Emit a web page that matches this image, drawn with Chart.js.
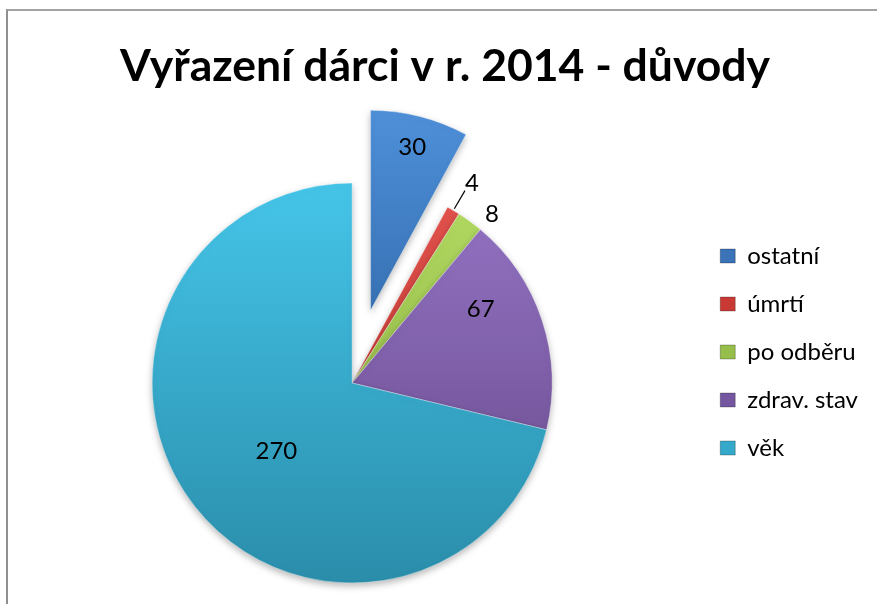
<!DOCTYPE html>
<html><head><meta charset="utf-8">
<script src="https://cdn.jsdelivr.net/npm/chart.js@4.4.1/dist/chart.umd.min.js"></script>
<style>
html,body{margin:0;padding:0;background:#fff;}
#wrap{position:relative;width:877px;height:604px;overflow:hidden;background:#fff;}
#frame{position:absolute;left:6px;top:9px;width:900px;height:700px;border-left:2px solid #8f8f8f;border-top:2px solid #a3a3a3;}
canvas{position:absolute;left:0;top:0;}
</style></head><body>
<div id="wrap"><div id="frame"></div><canvas id="c" width="877" height="604"></canvas></div>
<script>
// ---- data ----
const titleText = 'Vyřazení dárci v r. 2014 - důvody';
const categories = ['ostatní', 'úmrtí', 'po odběru', 'zdrav. stav', 'věk'];
const values = [30, 4, 8, 67, 270];

// ---- styles ----
const colorsTop    = ['#4E90D9', '#E5544E', '#B4DD64', '#9675C6', '#45C5E9'];
const colorsBottom = ['#21528F', '#AE2A26', '#7E9F34', '#634686', '#2A8DAA'];
const colorsLegend = ['#3A73B8', '#C93A35', '#95BE4A', '#7457A0', '#35A9CB'];
const explodeOffsets = [75, 0, 0, 0, 0];
const labelPlacement = [
  {r: 0.845, da: 0},
  {r: 1.17, da: 0.4, line: [1.01, 1.115]},
  {r: 1.10, da: 3.4},
  {r: 0.745, da: -12},
  {r: 0.505, da: -3.2}
];
const PIE_R = 200;
const TITLE_SHIFT_X = 7;

function sliceGradient(context) {
  const chart = context.chart;
  const i = context.dataIndex;
  const a = chart.chartArea;
  if (!a) return colorsLegend[i];
  const cy = (a.top + a.bottom) / 2;
  const g = chart.ctx.createLinearGradient(0, cy - PIE_R, 0, cy + PIE_R);
  g.addColorStop(0, colorsTop[i]);
  g.addColorStop(1, colorsBottom[i]);
  return g;
}

const titleShiftPlugin = {
  id: 'titleShift',
  afterLayout(chart) {
    const t = chart.titleBlock;
    if (t) { t.left += TITLE_SHIFT_X; t.right += TITLE_SHIFT_X; }
  }
};

const explodePlugin = {
  id: 'explodeSlices',
  beforeDatasetsDraw(chart) {
    const ctx = chart.ctx;
    const meta = chart.getDatasetMeta(0);
    meta.data.forEach((arc, i) => {
      const d = explodeOffsets[i] || 0;
      const mid = (arc.startAngle + arc.endAngle) / 2;
      ctx.save();
      ctx.translate(Math.cos(mid) * d, Math.sin(mid) * d);
      ctx.shadowColor = 'rgba(0,0,0,0.28)';
      ctx.shadowBlur = 7;
      ctx.shadowOffsetY = 3;
      arc.draw(ctx, chart.chartArea);
      ctx.restore();
    });
    return false;
  }
};

const labelPlugin = {
  id: 'sliceLabels',
  afterDraw(chart) {
    const ctx = chart.ctx;
    const meta = chart.getDatasetMeta(0);
    ctx.save();
    ctx.font = '24px Lato';
    ctx.fillStyle = '#000';
    ctx.textAlign = 'center';
    ctx.textBaseline = 'middle';
    meta.data.forEach((arc, i) => {
      const p = arc.getProps(['x', 'y', 'startAngle', 'endAngle', 'outerRadius'], true);
      const place = labelPlacement[i];
      const midRaw = (p.startAngle + p.endAngle) / 2;
      const off = explodeOffsets[i] || 0;
      const ox = p.x + Math.cos(midRaw) * off;
      const oy = p.y + Math.sin(midRaw) * off;
      const mid = midRaw + place.da * Math.PI / 180;
      const d = p.outerRadius * place.r;
      if (place.line) {
        ctx.beginPath();
        ctx.strokeStyle = '#000';
        ctx.lineWidth = 1.2;
        ctx.moveTo(ox + Math.cos(midRaw) * p.outerRadius * place.line[0], oy + Math.sin(midRaw) * p.outerRadius * place.line[0]);
        ctx.lineTo(ox + Math.cos(midRaw) * p.outerRadius * place.line[1], oy + Math.sin(midRaw) * p.outerRadius * place.line[1]);
        ctx.stroke();
      }
      ctx.fillText(String(values[i]), ox + Math.cos(mid) * d, oy + Math.sin(mid) * d + 1);
    });
    ctx.restore();
  }
};

new Chart(document.getElementById('c'), {
  type: 'pie',
  data: {
    labels: categories,
    datasets: [{
      data: values,
      backgroundColor: sliceGradient,
      borderColor: 'rgba(255,255,255,0.35)',
      borderWidth: 1,
      hoverOffset: 0
    }]
  },
  options: {
    responsive: false,
    devicePixelRatio: 1,
    animation: false,
    radius: PIE_R,
    layout: {padding: {left: 8, right: 9, top: 0, bottom: 58}},
    plugins: {
      tooltip: {enabled: false},
      title: {
        display: true,
        text: titleText,
        color: '#000',
        font: {family: 'Lato', size: 44.5, weight: 'bold'},
        padding: {top: 40.3, bottom: 126.3}
      },
      legend: {
        display: true,
        position: 'right',
        align: 'start',
        fullSize: false,
        labels: {
          color: '#000',
          font: {family: 'Lato', size: 24},
          boxWidth: 15,
          boxHeight: 14,
          padding: 24,
          generateLabels(chart) {
            return categories.map((c, i) => ({
              text: c,
              fillStyle: colorsLegend[i],
              strokeStyle: 'rgba(0,0,0,0.25)',
              lineWidth: 1,
              hidden: false,
              index: i
            }));
          }
        }
      }
    }
  },
  plugins: [titleShiftPlugin, explodePlugin, labelPlugin]
});
</script>
</body></html>
